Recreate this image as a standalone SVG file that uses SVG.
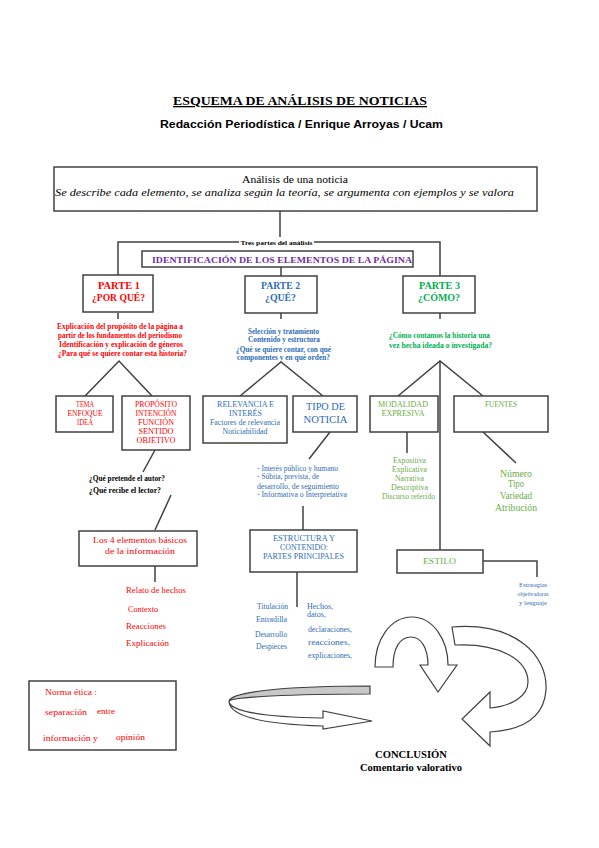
<svg xmlns="http://www.w3.org/2000/svg" width="599" height="848" viewBox="0 0 599 848">
<style>
.box{fill:#fff;stroke:#404040;stroke-width:1.5}
.ln{stroke:#404040;stroke-width:1.5;fill:none}
.s{font-family:"Liberation Serif","Times New Roman",serif}
.a{font-family:"Liberation Sans",Arial,sans-serif}
.bd{font-weight:bold}
.r{fill:#ff0000}.b{fill:#2e6db4}.g{fill:#00b050}.lg{fill:#6aac46}.p{fill:#7030a0}.k{fill:#000}
.m{text-anchor:middle}
.shape{stroke:#404040;stroke-width:1.2;fill:#fff}
</style>
<rect width="599" height="848" fill="#fff"/>
<g id="title">
<text class="s bd k m" x="300" y="105" font-size="13" textLength="254" lengthAdjust="spacingAndGlyphs" text-decoration="underline">ESQUEMA DE ANÁLISIS DE NOTICIAS</text>
<text class="a bd k m" x="301.5" y="128" font-size="11" textLength="283" lengthAdjust="spacingAndGlyphs">Redacción Periodística / Enrique Arroyas / Ucam</text>
</g>
<g id="connectors">
<line class="ln" x1="280" y1="211" x2="280" y2="237"/>
<polyline class="ln" points="239,242 118,242 118,275"/>
<polyline class="ln" points="314,242 440,242 440,276"/>
<line class="ln" x1="281" y1="267" x2="281" y2="276"/>
<line class="ln" x1="118" y1="313" x2="118" y2="319"/>
<line class="ln" x1="281" y1="313" x2="281" y2="319"/>
<line class="ln" x1="440" y1="313" x2="440" y2="319"/>
<polyline class="ln" points="85,396 119,361 152,396"/>
<polyline class="ln" points="240,396 281,362 323,396"/>
<polyline class="ln" points="398,396 440,361 483,396"/>
<line class="ln" x1="440" y1="361" x2="440" y2="550"/>
<line class="ln" x1="155" y1="450" x2="143" y2="472"/>
<line class="ln" x1="171" y1="495" x2="155" y2="530"/>
<line class="ln" x1="155" y1="566" x2="155" y2="582"/>
<line class="ln" x1="330" y1="432" x2="309" y2="459"/>
<line class="ln" x1="303" y1="506" x2="303" y2="530"/>
<line class="ln" x1="297" y1="572" x2="297" y2="607"/>
<line class="ln" x1="407" y1="432" x2="407" y2="453"/>
<line class="ln" x1="483" y1="432" x2="516" y2="463"/>
<polyline class="ln" points="483,561 537,561 537,577"/>
</g>
<g id="analisis">
<rect class="box" x="54" y="167" width="483" height="44"/>
<text class="s k m" x="295" y="183" font-size="11" textLength="106" lengthAdjust="spacingAndGlyphs">Análisis de una noticia</text>
<text class="s k m" x="284.5" y="196" font-size="10" font-style="italic" textLength="459" lengthAdjust="spacingAndGlyphs">Se describe cada elemento, se analiza según la teoría, se argumenta con ejemplos y se valora</text>
</g>
<g id="tres-partes">
<text class="s bd k m" x="276.5" y="244.5" font-size="6" textLength="72" lengthAdjust="spacingAndGlyphs">Tres partes del análisis</text>
</g>
<g id="identificacion">
<rect class="box" x="142" y="251" width="271" height="16"/>
<text class="s bd p m" x="282" y="263" font-size="9" textLength="260" lengthAdjust="spacingAndGlyphs">IDENTIFICACIÓN DE LOS ELEMENTOS DE LA PÁGINA</text>
</g>
<g id="parte1">
<rect class="box" x="83" y="275" width="70" height="37"/>
<text class="s bd r m" x="119" y="289" font-size="9.5" textLength="42" lengthAdjust="spacingAndGlyphs">PARTE 1</text>
<text class="s bd r m" x="118.5" y="301" font-size="9.5" textLength="53" lengthAdjust="spacingAndGlyphs">¿POR QUÉ?</text>
<text class="s bd r m" x="120" y="329" font-size="7.5" textLength="126" lengthAdjust="spacingAndGlyphs">Explicación del propósito de la página a</text>
<text class="s bd r m" x="120" y="338" font-size="7.5" textLength="124" lengthAdjust="spacingAndGlyphs">partir de los fundamentos del periodismo</text>
<text class="s bd r m" x="121" y="347" font-size="7.5" textLength="124" lengthAdjust="spacingAndGlyphs">Identificación y explicación de géneros</text>
<text class="s bd r m" x="122.5" y="356" font-size="7.5" textLength="129" lengthAdjust="spacingAndGlyphs">¿Para qué se quiere contar esta historia?</text>
</g>
<g id="parte2">
<rect class="box" x="245" y="276" width="72" height="37"/>
<text class="s bd b m" x="280.5" y="289" font-size="9.5" textLength="39" lengthAdjust="spacingAndGlyphs">PARTE 2</text>
<text class="s bd b m" x="280.5" y="301" font-size="9.5" textLength="31" lengthAdjust="spacingAndGlyphs">¿QUÉ?</text>
<text class="s bd b m" x="283.5" y="334" font-size="7.5" textLength="71" lengthAdjust="spacingAndGlyphs">Selección y tratamiento</text>
<text class="s bd b m" x="284" y="342" font-size="7.5" textLength="72" lengthAdjust="spacingAndGlyphs">Contenido y estructura</text>
<text class="s bd b m" x="283.5" y="352" font-size="7.5" textLength="95" lengthAdjust="spacingAndGlyphs">¿Qué se quiere contar, con qué</text>
<text class="s bd b m" x="283.5" y="360" font-size="7.5" textLength="93" lengthAdjust="spacingAndGlyphs">componentes y en qué orden?</text>
</g>
<g id="parte3">
<rect class="box" x="403" y="276" width="72" height="37"/>
<text class="s bd g m" x="439.5" y="289" font-size="9.5" textLength="41" lengthAdjust="spacingAndGlyphs">PARTE 3</text>
<text class="s bd g m" x="439" y="301" font-size="9.5" textLength="42" lengthAdjust="spacingAndGlyphs">¿CÓMO?</text>
<text class="s bd g m" x="439.5" y="338" font-size="7.5" textLength="101" lengthAdjust="spacingAndGlyphs">¿Cómo contamos la historia una</text>
<text class="s bd g m" x="440.5" y="348" font-size="7.5" textLength="103" lengthAdjust="spacingAndGlyphs">vez hecha ideada o investigada?</text>
</g>
<g id="tema">
<rect class="box" x="56" y="396" width="57" height="36"/>
<text class="s r m" x="85" y="407" font-size="7.5" textLength="18" lengthAdjust="spacingAndGlyphs">TEMA</text>
<text class="s r m" x="85" y="416" font-size="7.5" textLength="35" lengthAdjust="spacingAndGlyphs">ENFOQUE</text>
<text class="s r m" x="85" y="425" font-size="7.5" textLength="16" lengthAdjust="spacingAndGlyphs">IDEA</text>
</g>
<g id="proposito">
<rect class="box" x="122" y="396" width="68" height="54"/>
<text class="s r m" x="156" y="407" font-size="7.5" textLength="42" lengthAdjust="spacingAndGlyphs">PROPÓSITO</text>
<text class="s r m" x="156" y="416" font-size="7.5" textLength="41" lengthAdjust="spacingAndGlyphs">INTENCIÓN</text>
<text class="s r m" x="156" y="425" font-size="7.5" textLength="36" lengthAdjust="spacingAndGlyphs">FUNCIÓN</text>
<text class="s r m" x="156" y="434" font-size="7.5" textLength="35" lengthAdjust="spacingAndGlyphs">SENTIDO</text>
<text class="s r m" x="156" y="443" font-size="7.5" textLength="39" lengthAdjust="spacingAndGlyphs">OBJETIVO</text>
</g>
<g id="preguntas-autor">
<text class="s bd k" x="89" y="481" font-size="7.5" textLength="76" lengthAdjust="spacingAndGlyphs">¿Qué pretende el autor?</text>
<text class="s bd k" x="89" y="493" font-size="7.5" textLength="72" lengthAdjust="spacingAndGlyphs">¿Qué recibe el lector?</text>
</g>
<g id="cuatro-elementos">
<rect class="box" x="79" y="531" width="118" height="35"/>
<text class="s r m" x="140" y="543" font-size="9" textLength="94" lengthAdjust="spacingAndGlyphs">Los 4 elementos básicos</text>
<text class="s r m" x="140" y="554" font-size="9" textLength="70" lengthAdjust="spacingAndGlyphs">de la información</text>
<text class="s r" x="126" y="593" font-size="9" textLength="60" lengthAdjust="spacingAndGlyphs">Relato de hechos</text>
<text class="s r" x="128" y="612" font-size="9" textLength="30" lengthAdjust="spacingAndGlyphs">Contexto</text>
<text class="s r" x="126" y="629" font-size="9" textLength="40" lengthAdjust="spacingAndGlyphs">Reacciones</text>
<text class="s r" x="126" y="646" font-size="9" textLength="43" lengthAdjust="spacingAndGlyphs">Explicación</text>
</g>
<g id="relevancia">
<rect class="box" x="203" y="396" width="84" height="47"/>
<text class="s b m" x="245.5" y="407" font-size="7.5" textLength="57" lengthAdjust="spacingAndGlyphs">RELEVANCIA E</text>
<text class="s b m" x="245.5" y="416" font-size="7.5" textLength="33" lengthAdjust="spacingAndGlyphs">INTERÉS</text>
<text class="s b m" x="245" y="425" font-size="7.5" textLength="70" lengthAdjust="spacingAndGlyphs">Factores de relevancia</text>
<text class="s b m" x="245" y="434" font-size="7.5" textLength="45" lengthAdjust="spacingAndGlyphs">Noticiabilidad</text>
</g>
<g id="tipo-noticia">
<rect class="box" x="293" y="396" width="64" height="36"/>
<text class="s b m" x="325.5" y="410" font-size="11" textLength="39" lengthAdjust="spacingAndGlyphs">TIPO DE</text>
<text class="s b m" x="325.5" y="423" font-size="11" textLength="44" lengthAdjust="spacingAndGlyphs">NOTICIA</text>
<text class="s b" x="257" y="471" font-size="8" textLength="81" lengthAdjust="spacingAndGlyphs">- Interés público y humano</text>
<text class="s b" x="257" y="479" font-size="8" textLength="62" lengthAdjust="spacingAndGlyphs">- Súbita, prevista, de</text>
<text class="s b" x="257" y="489" font-size="8" textLength="82" lengthAdjust="spacingAndGlyphs">desarrollo, de seguimiento</text>
<text class="s b" x="257" y="497" font-size="8" textLength="90" lengthAdjust="spacingAndGlyphs">- Informativa o Interpretativa</text>
</g>
<g id="estructura">
<rect class="box" x="250" y="530" width="107" height="42"/>
<text class="s b m" x="304" y="541" font-size="7.5" textLength="62" lengthAdjust="spacingAndGlyphs">ESTRUCTURA Y</text>
<text class="s b m" x="304" y="550" font-size="7.5" textLength="48" lengthAdjust="spacingAndGlyphs">CONTENIDO:</text>
<text class="s b m" x="303.5" y="559" font-size="7.5" textLength="81" lengthAdjust="spacingAndGlyphs">PARTES PRINCIPALES</text>
<text class="s b" x="257" y="609" font-size="8" textLength="31" lengthAdjust="spacingAndGlyphs">Titulación</text>
<text class="s b" x="256" y="622" font-size="8" textLength="31" lengthAdjust="spacingAndGlyphs">Entradilla</text>
<text class="s b" x="255" y="637" font-size="8" textLength="32" lengthAdjust="spacingAndGlyphs">Desarrollo</text>
<text class="s b" x="256" y="649" font-size="8" textLength="31" lengthAdjust="spacingAndGlyphs">Despieces</text>
<text class="s b" x="307" y="609" font-size="8" textLength="26" lengthAdjust="spacingAndGlyphs">Hechos,</text>
<text class="s b" x="307" y="617" font-size="8" textLength="19" lengthAdjust="spacingAndGlyphs">datos,</text>
<text class="s b" x="308" y="632" font-size="8" textLength="44" lengthAdjust="spacingAndGlyphs">declaraciones,</text>
<text class="s b" x="308" y="645" font-size="8" textLength="42" lengthAdjust="spacingAndGlyphs">reacciones,</text>
<text class="s b" x="308" y="658" font-size="8" textLength="44" lengthAdjust="spacingAndGlyphs">explicaciones,</text>
</g>
<g id="modalidad">
<rect class="box" x="370" y="396" width="68" height="36"/>
<text class="s lg m" x="403" y="407" font-size="7.5" textLength="50" lengthAdjust="spacingAndGlyphs">MODALIDAD</text>
<text class="s lg m" x="403" y="416" font-size="7.5" textLength="43" lengthAdjust="spacingAndGlyphs">EXPRESIVA</text>
<text class="s lg m" x="409.5" y="463" font-size="8" textLength="33" lengthAdjust="spacingAndGlyphs">Expositiva</text>
<text class="s lg m" x="409.5" y="472" font-size="8" textLength="35" lengthAdjust="spacingAndGlyphs">Explicativa</text>
<text class="s lg m" x="409.5" y="481" font-size="8" textLength="29" lengthAdjust="spacingAndGlyphs">Narrativa</text>
<text class="s lg m" x="409.5" y="490" font-size="8" textLength="37" lengthAdjust="spacingAndGlyphs">Descriptiva</text>
<text class="s lg m" x="408.5" y="499" font-size="8" textLength="53" lengthAdjust="spacingAndGlyphs">Discurso referido</text>
</g>
<g id="fuentes">
<rect class="box" x="454" y="396" width="94" height="36"/>
<text class="s lg m" x="501" y="407" font-size="7.5" textLength="32" lengthAdjust="spacingAndGlyphs">FUENTES</text>
<text class="s lg m" x="516" y="477" font-size="10" textLength="32" lengthAdjust="spacingAndGlyphs">Número</text>
<text class="s lg m" x="516" y="487" font-size="10" textLength="16" lengthAdjust="spacingAndGlyphs">Tipo</text>
<text class="s lg m" x="516" y="499" font-size="10" textLength="32" lengthAdjust="spacingAndGlyphs">Variedad</text>
<text class="s lg m" x="516" y="511" font-size="10" textLength="42" lengthAdjust="spacingAndGlyphs">Atribución</text>
</g>
<g id="estilo">
<rect class="box" x="397" y="550" width="86" height="23"/>
<text class="s lg m" x="439.5" y="564" font-size="9" textLength="33" lengthAdjust="spacingAndGlyphs">ESTILO</text>
<text class="s b m" x="533" y="587" font-size="7" textLength="28" lengthAdjust="spacingAndGlyphs">Estrategias</text>
<text class="s b m" x="533" y="596" font-size="7" textLength="31" lengthAdjust="spacingAndGlyphs">objetivadoras</text>
<text class="s b m" x="533" y="605" font-size="7" textLength="28" lengthAdjust="spacingAndGlyphs">y lenguaje</text>
</g>
<g id="norma-etica">
<rect class="box" x="29" y="681" width="147" height="69"/>
<text class="s r" x="45" y="695" font-size="8.5" textLength="52" lengthAdjust="spacingAndGlyphs">Norma ética :</text>
<text class="s r" x="45" y="715" font-size="8.5" textLength="42" lengthAdjust="spacingAndGlyphs">separación</text>
<text class="s r" x="97" y="714" font-size="8.5" textLength="18" lengthAdjust="spacingAndGlyphs">entre</text>
<text class="s r" x="43" y="741" font-size="8.5" textLength="55" lengthAdjust="spacingAndGlyphs">información y</text>
<text class="s r" x="116" y="740" font-size="8.5" textLength="29" lengthAdjust="spacingAndGlyphs">opinión</text>
</g>
<g id="flechas-ciclo">
<path class="shape" d="M452 627 C515 622 548 655 546 690 C544 718 522 730 490 732 L490 746 L462 719 L490 692 L490 708 C512 706 528 696 528 682 C528 660 500 643 455 645 Z"/>
<path class="shape" d="M375 667 C375 640 390 617 412 617 C433 617 448 640 448 665 L457 665 L438 692 L420 665 L428 665 C428 648 421 637 411 637 C400 637 393 648 393 667 Z"/>
<path class="shape" d="M229 701 C229 711 262 717 323 718 L323 711 L372 721 L323 729 L323 726 C258 724 229 715 229 701 Z"/>
<path d="M370 686 C292 686 232 691 229 701 C233 697 290 694 370 694 Z" fill="#c8c8c8" stroke="#404040" stroke-width="1.2"/>
</g>
<g id="conclusion">
<text class="s bd k m" x="411" y="758" font-size="10.5" textLength="72" lengthAdjust="spacingAndGlyphs">CONCLUSIÓN</text>
<text class="s bd k m" x="411" y="771" font-size="10.5" textLength="102" lengthAdjust="spacingAndGlyphs">Comentario valorativo</text>
</g>
</svg>
